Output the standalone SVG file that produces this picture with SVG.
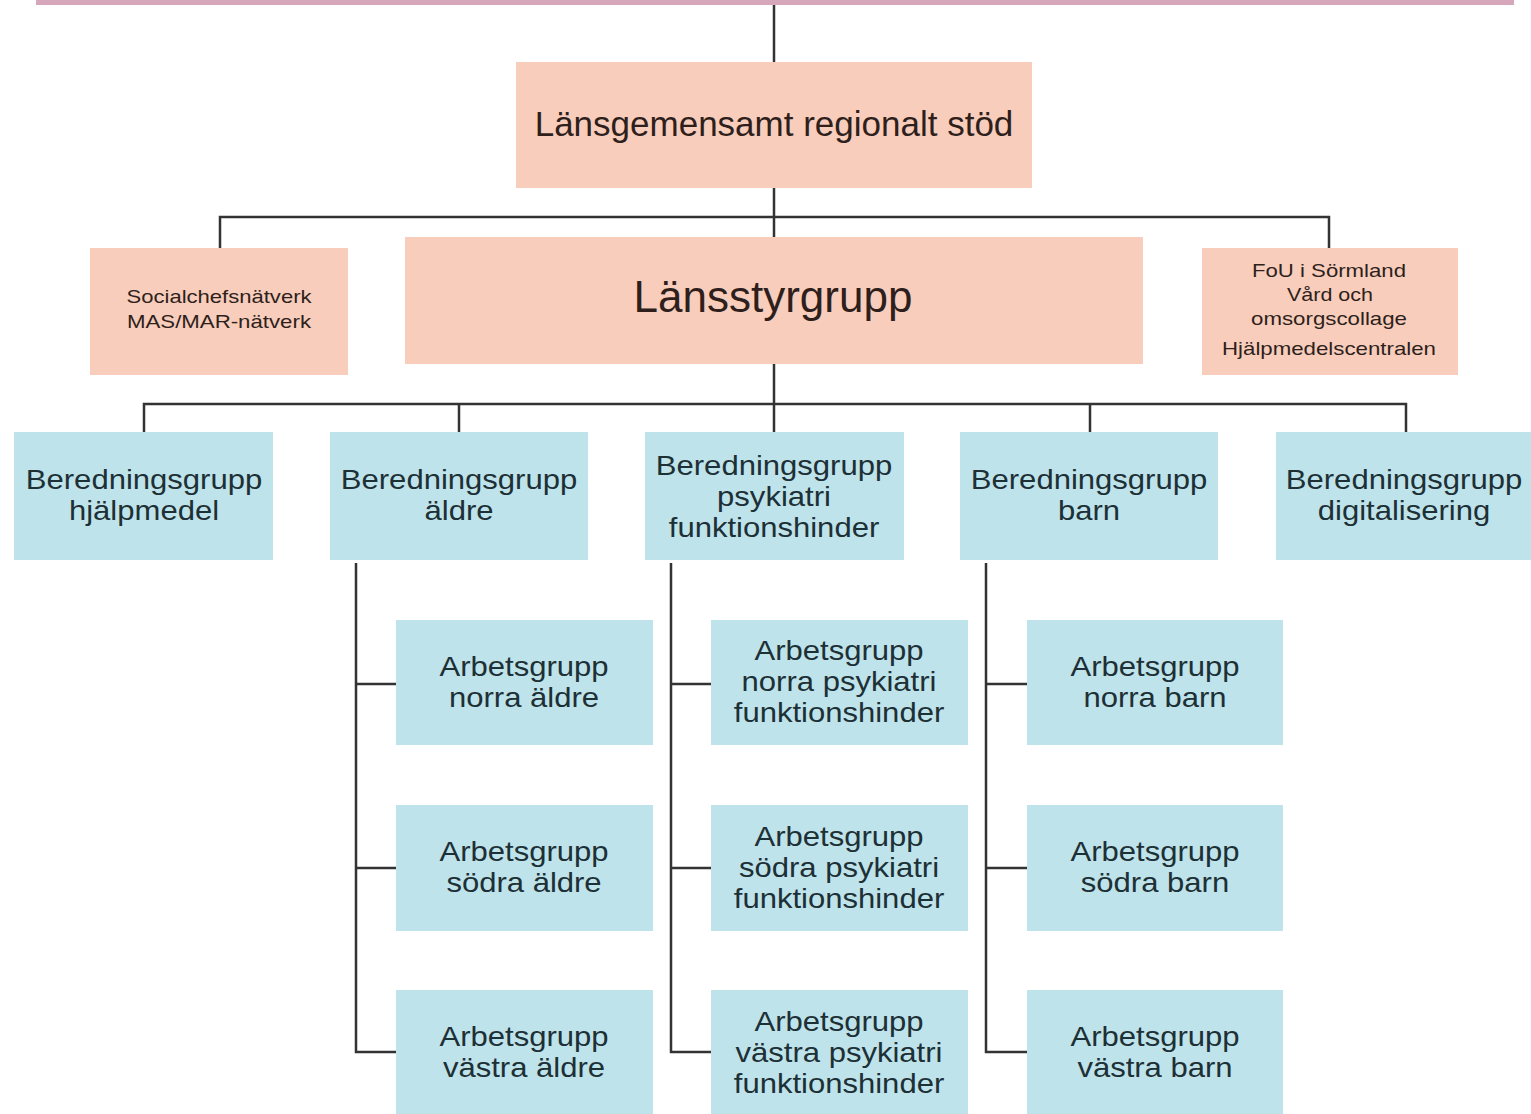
<svg xmlns="http://www.w3.org/2000/svg" width="1531" height="1114" viewBox="0 0 1531 1114">
<style>
.pink{fill:#f8cdbb}
.blue{fill:#bfe3ea}
.t{font-family:"Liberation Sans",Arial,sans-serif;text-anchor:middle}
.tp{fill:#2e1f1c}
.tb{fill:#1d3036}
.b{font-size:27px}
.s{font-size:19px}
.c{stroke:#333;stroke-width:2.5;fill:none}
</style>
<rect x="0" y="0" width="1531" height="1114" fill="#ffffff"/>
<rect x="36" y="0" width="1478" height="5" fill="#d6a6ba"/>
<g id="connectors">
<path class="c" d="M774 5V62"/>
<path class="c" d="M774 188V237"/>
<path class="c" d="M220 248V217H1329V248"/>
<path class="c" d="M774 364V404"/>
<path class="c" d="M144 432V404H1406V432"/>
<path class="c" d="M459 404V432M774 404V432M1090 404V432"/>
<path class="c" d="M356 563V1052H396M356 684H396M356 868H396"/>
<path class="c" d="M671 563V1052H711M671 684H711M671 868H711"/>
<path class="c" d="M986 563V1052H1027M986 684H1027M986 868H1027"/>
</g>
<g id="regionalt">
<rect class="pink" x="516" y="62" width="516" height="126"/>
<text class="t tp" x="774" y="136" font-size="35">Länsgemensamt regionalt stöd</text>
</g>
<g id="socialchef">
<rect class="pink" x="90" y="248" width="258" height="127"/>
<text class="t tp s" x="219" y="303" textLength="185" lengthAdjust="spacingAndGlyphs">Socialchefsnätverk</text>
<text class="t tp s" x="219" y="328" textLength="184" lengthAdjust="spacingAndGlyphs">MAS/MAR-nätverk</text>
</g>
<g id="lansstyrgrupp">
<rect class="pink" x="405" y="237" width="738" height="127"/>
<text class="t tp" x="773" y="312" font-size="44">Länsstyrgrupp</text>
</g>
<g id="fou">
<rect class="pink" x="1202" y="248" width="256" height="127"/>
<text class="t tp s" x="1329" y="277" textLength="154" lengthAdjust="spacingAndGlyphs">FoU i Sörmland</text>
<text class="t tp s" x="1330" y="301" textLength="86" lengthAdjust="spacingAndGlyphs">Vård och</text>
<text class="t tp s" x="1329" y="325" textLength="156" lengthAdjust="spacingAndGlyphs">omsorgscollage</text>
<text class="t tp s" x="1329" y="355" textLength="214" lengthAdjust="spacingAndGlyphs">Hjälpmedelscentralen</text>
</g>
<g id="ber-hjalpmedel">
<rect class="blue" x="14" y="432" width="259" height="128"/>
<g transform="translate(144 0) scale(1.15 1)"><text class="t tb b" x="0" y="489">Beredningsgrupp</text>
<text class="t tb b" x="0" y="520">hjälpmedel</text></g>
</g>
<g id="ber-aldre">
<rect class="blue" x="330" y="432" width="258" height="128"/>
<g transform="translate(459 0) scale(1.15 1)"><text class="t tb b" x="0" y="489">Beredningsgrupp</text>
<text class="t tb b" x="0" y="520">äldre</text></g>
</g>
<g id="ber-psykiatri">
<rect class="blue" x="645" y="432" width="259" height="128"/>
<g transform="translate(774 0) scale(1.15 1)"><text class="t tb b" x="0" y="475">Beredningsgrupp</text>
<text class="t tb b" x="0" y="506">psykiatri</text>
<text class="t tb b" x="0" y="537">funktionshinder</text></g>
</g>
<g id="ber-barn">
<rect class="blue" x="960" y="432" width="258" height="128"/>
<g transform="translate(1089 0) scale(1.15 1)"><text class="t tb b" x="0" y="489">Beredningsgrupp</text>
<text class="t tb b" x="0" y="520">barn</text></g>
</g>
<g id="ber-digitalisering">
<rect class="blue" x="1276" y="432" width="255" height="128"/>
<g transform="translate(1404 0) scale(1.15 1)"><text class="t tb b" x="0" y="489">Beredningsgrupp</text>
<text class="t tb b" x="0" y="520">digitalisering</text></g>
</g>
<g id="arb-norra-aldre">
<rect class="blue" x="396" y="620" width="257" height="125"/>
<g transform="translate(524 0) scale(1.15 1)"><text class="t tb b" x="0" y="676">Arbetsgrupp</text>
<text class="t tb b" x="0" y="707">norra äldre</text></g>
</g>
<g id="arb-sodra-aldre">
<rect class="blue" x="396" y="805" width="257" height="126"/>
<g transform="translate(524 0) scale(1.15 1)"><text class="t tb b" x="0" y="861">Arbetsgrupp</text>
<text class="t tb b" x="0" y="892">södra äldre</text></g>
</g>
<g id="arb-vastra-aldre">
<rect class="blue" x="396" y="990" width="257" height="124"/>
<g transform="translate(524 0) scale(1.15 1)"><text class="t tb b" x="0" y="1046">Arbetsgrupp</text>
<text class="t tb b" x="0" y="1077">västra äldre</text></g>
</g>
<g id="arb-norra-psykiatri">
<rect class="blue" x="711" y="620" width="257" height="125"/>
<g transform="translate(839 0) scale(1.15 1)"><text class="t tb b" x="0" y="660">Arbetsgrupp</text>
<text class="t tb b" x="0" y="691">norra psykiatri</text>
<text class="t tb b" x="0" y="722">funktionshinder</text></g>
</g>
<g id="arb-sodra-psykiatri">
<rect class="blue" x="711" y="805" width="257" height="126"/>
<g transform="translate(839 0) scale(1.15 1)"><text class="t tb b" x="0" y="846">Arbetsgrupp</text>
<text class="t tb b" x="0" y="877">södra psykiatri</text>
<text class="t tb b" x="0" y="908">funktionshinder</text></g>
</g>
<g id="arb-vastra-psykiatri">
<rect class="blue" x="711" y="990" width="257" height="124"/>
<g transform="translate(839 0) scale(1.15 1)"><text class="t tb b" x="0" y="1031">Arbetsgrupp</text>
<text class="t tb b" x="0" y="1062">västra psykiatri</text>
<text class="t tb b" x="0" y="1093">funktionshinder</text></g>
</g>
<g id="arb-norra-barn">
<rect class="blue" x="1027" y="620" width="256" height="125"/>
<g transform="translate(1155 0) scale(1.15 1)"><text class="t tb b" x="0" y="676">Arbetsgrupp</text>
<text class="t tb b" x="0" y="707">norra barn</text></g>
</g>
<g id="arb-sodra-barn">
<rect class="blue" x="1027" y="805" width="256" height="126"/>
<g transform="translate(1155 0) scale(1.15 1)"><text class="t tb b" x="0" y="861">Arbetsgrupp</text>
<text class="t tb b" x="0" y="892">södra barn</text></g>
</g>
<g id="arb-vastra-barn">
<rect class="blue" x="1027" y="990" width="256" height="124"/>
<g transform="translate(1155 0) scale(1.15 1)"><text class="t tb b" x="0" y="1046">Arbetsgrupp</text>
<text class="t tb b" x="0" y="1077">västra barn</text></g>
</g>
</svg>
